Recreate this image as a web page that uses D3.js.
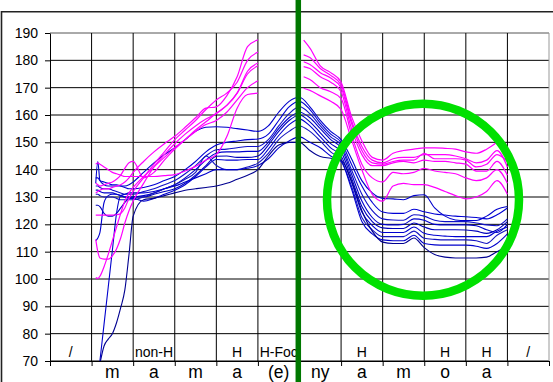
<!DOCTYPE html>
<html><head><meta charset="utf-8">
<script src="https://cdn.jsdelivr.net/npm/d3@7"></script>
<style>html,body{margin:0;padding:0;background:#fff;overflow:hidden}svg{display:block}</style>
</head><body><svg id="c" width="553" height="382"></svg>
<script>
// ---------- data ----------
const yTicks = [70,80,90,100,110,120,130,140,150,160,170,180,190];
const columns = [0,1,2,3,4,5,6,7,8,9,10,11];
const topLabels = ["/", "", "non-H", "", "H", "H-Foc", "", "H", "", "H", "H", "/"];
const bottomLabels = ["", "m", "a", "m", "a", "(e)", "ny", "a", "m", "o", "a", ""];

// x positions in column units (0..12)
const blueX = [1.1,1.15,1.2,1.3,1.4,1.5,1.6,1.7,1.8,1.9,2.0,2.25,2.5,2.75,3.0,3.25,3.5,3.75,4.0,4.25,4.5,4.75,5.0,5.25,5.5,5.75,6.0,
               6.25,6.5,6.75,7.0,7.25,7.5,7.75,8.0,8.25,8.5,8.75,9.0,9.25,9.5,9.75,10.0,10.25,10.5,10.75,11.0];
const blue1 = [135,143,136,134.5,134,134,134,134,134,134.5,135.5,139,142.5,145.5,148,151,154,155.5,155.7,155.5,155,154.5,154,156,161,165,166.5,
               163,158,154,151,144,136,131.5,129.5,129.3,129,130.5,130.8,126,123,121.6,121.4,121.4,123,125.5,126.5];
const blue2 = [137,137,136,135.5,135,134.5,134.5,134,133.5,133,133,133.5,134.5,136,137.5,140,143,146.5,149,150,150.5,151,151.2,153,158,163,165,
               162,157,153,150,142,134,128,124.5,124,124,125.5,124.6,123.8,123.4,123,122.8,122.5,122,123.5,126];
const blue3 = [134,134,133.5,133,133,132.5,132,131.5,131,131,131,132,133,134.5,136,138.5,141.5,145,147.3,147.5,148,148.5,148.5,151,156,160.5,163,
               160.5,156,152,149,140,131,125,122,121.6,121.5,123.5,123,121.5,121,121,121,120.5,119.8,119.5,122];
const blue4 = [132.5,132.5,132,131.5,131.5,131.5,131,130.5,130,130,130,130.5,131.5,133,134.5,137,140,143.5,146,146.5,146.5,146.7,146.7,150,155,159,161,
               159,155,151,148,138.5,128.5,122.5,120,119.8,120,122,121.5,120,119.8,119.8,119.8,119.5,118,117,120];
const blue5 = [127,127,126.5,124,123,123,124,126,128,129.5,130,130,131,132,133,135,138,141.5,144.9,145,144.5,144.5,145,149,154,158,160,
               157.5,153.5,149.5,146.5,137,126.5,121,118.7,118.5,118.5,120.5,119,118,118,118,117.9,117.5,116.7,118,121];
const blue6 = [114,115,117,128,130.5,131,131,130.5,130,129.5,129.5,128.5,129.5,131,132.5,134.5,137.5,141,143.7,143.5,143.5,143.7,143.7,147.5,152.5,156.5,158.5,
               156,152,148,145,135.5,124.5,119.5,117,117,117,119,116.7,116,115.7,115.5,115.5,115.5,115.5,117.5,119];
const blue7 = [131,131,130.5,130,130,130,129.5,129,129,129,129,130,131.5,133,134.5,136.5,139,145,141.5,140,140,141,142.4,146,151,154,156,
               154,150.5,146.5,143.5,134,122.5,118,115.5,115.5,115.5,117.5,114.9,114.5,114.3,114.3,114.3,114,113,116,118];
const blue8 = [null,null,70,83.5,97,110.5,124,130.5,131,131.5,131.5,131.5,132,133,134,135.5,137,138.5,140,140,140,140.5,141.5,144,148,150.5,152,
               150,148,145,143,133,121,116.5,114.3,114,114,116,113,112.5,112.4,112.4,112.4,112,111.2,113,116.5];
const blue9 = [null,null,69,75.5,78,80,84,89.5,96,109,123,129,129.5,130.5,131.5,132.5,133,133.5,134,135,136.5,138,140,145,149,150,150,
               147,144.8,144.2,143.5,136,125,117.5,113.5,113,113,115,111.5,109,108,107.7,107.7,107.7,108,110,112];

const pinkLeftX = [1.1,1.15,1.2,1.3,1.4,1.5,1.6,1.7,1.8,1.9,2.0,2.25,2.5,2.75,3.0,3.25,3.5,3.75,4.0,4.25,4.5,4.75,5.0];
const pinkL1 = [142,142.5,142,141,140,139,138.5,138,137.5,137.5,137.5,137.5,137.5,137.8,138.2,139.5,141.2,143.5,145.5,152,162.5,167.5,168];
const pinkL2 = [135,134.5,134,134.5,135,135.5,136.5,138,140.5,142.5,143,137,139,143.5,147.5,151,154.5,157.5,160.7,163.5,168,175,178];
const pinkL3 = [131.5,132,132.5,133,133,133.5,134,134.5,135.5,137,139,143,146.5,149.5,152.2,155.5,159,162.5,163,167,174,185,187.5];
const pinkL4 = [123.4,123.4,123.4,123.4,123.4,123.4,123.5,124,126,129.5,132,137,142,146.5,151,154.5,158,162,165.5,168,172,180,183];
const pinkL5 = [114.5,110,107.7,107.3,107.3,108.5,111,115,120.5,125,128.5,135,141,145.5,149.5,153,156,158.5,160.5,163.5,168,176,179];
const pinkL6 = [100.5,100.2,101,104.5,109,114,119,124,128.5,131.5,133.5,137.5,141,144.5,148,151,154,156.5,158,161,165.5,170,172.5];

const pinkRightX = [6.1,6.25,6.5,6.75,7.0,7.25,7.5,7.75,8.0,8.25,8.5,8.75,9.0,9.25,9.5,9.75,10.0,10.25,10.5,10.75,11.0];
const pinkR1 = [187.4,184.5,178,175.5,172,159.5,150.5,144.5,143.5,146,147,147.5,148,148,147.8,147.5,146.5,146,147.5,150,null];
const pinkR2 = [182,181,177,174.5,171,158,148.5,143.5,142.5,144,144.5,144.5,145.5,145.5,145.5,145,144,142.5,143.5,147,141];
const pinkR3 = [179.5,178.5,175.5,173.5,170,157,147,142.5,142,143,143.5,143.5,146,144,144,144,143.5,141,142,145.5,143];
const pinkR4 = [177.7,177,174,172,168.5,155,145.5,141.5,141.5,142.5,143,142.5,143.5,143,143,142.5,142,139.5,139.5,143,138];
const pinkR5 = [174,173,170,168.5,166,153,142,137,135.5,139,138.5,139,140.5,139.5,139,138.5,137,136,137,140,135];
const pinkR6 = [169.8,169,167,165,162,151,140,131,128.5,134,135,134.5,134.5,133.5,132,130.5,129.3,130,132,136,131];

const blueSeries = [blue1,blue2,blue3,blue4,blue5,blue6,blue7,blue8,blue9];
const pinkLeftSeries = [pinkL1,pinkL2,pinkL3,pinkL4,pinkL5,pinkL6];
const pinkRightSeries = [pinkR1,pinkR2,pinkR3,pinkR4,pinkR5,pinkR6];

// ---------- drawing ----------
const W = 553, H = 382;
const FONT = '"Liberation Sans", Arial, sans-serif';
const svg = d3.select('#c');
const x = d3.scaleLinear().domain([0,12]).range([50,549]);
const y = d3.scaleLinear().domain([70,190]).range([361,33]);
const band = d3.scaleBand().domain(columns).range([50,549]);

svg.append('rect').attr('width',W).attr('height',H).attr('fill','#fff');
// outer chart frame (cropped)
svg.append('path').attr('d',`M1.5,${H} V11.75 H${W}`).attr('fill','none').attr('stroke','#222').attr('stroke-width',1.6);

// gridlines
const grid = svg.append('g');
grid.selectAll('line.h').data(yTicks).join('line').attr('class','h')
  .attr('x1',x(0)).attr('x2',x(12)).attr('y1',d=>y(d)).attr('y2',d=>y(d))
  .attr('stroke', d => d===190 ? '#555' : '#000').attr('stroke-width',1);
grid.selectAll('line.v').data(d3.range(1,13)).join('line').attr('class','v')
  .attr('x1',d=>x(d)).attr('x2',d=>x(d)).attr('y1',y(190)).attr('y2',y(70))
  .attr('stroke', d => d===12 ? '#999' : '#000').attr('stroke-width',1);

// axes
const yAxis = svg.append('g').attr('transform',`translate(${x(0)},0)`)
  .call(d3.axisLeft(y).tickValues(yTicks).tickSize(5).tickPadding(7).tickSizeOuter(0));
yAxis.attr('font-family',FONT).attr('font-size',14);
yAxis.selectAll('text').attr('fill','#000');
yAxis.selectAll('line,path').attr('stroke','#000');

const xAxis = svg.append('g').attr('transform',`translate(0,${y(70)})`)
  .call(d3.axisBottom(x).tickValues(d3.range(0,13)).tickSize(5).tickFormat('').tickSizeOuter(0));
xAxis.selectAll('line,path').attr('stroke','#000');

// clip for lines
svg.append('clipPath').attr('id','plot').append('rect')
  .attr('x',x(0)).attr('y',y(190)-6).attr('width',x(12)-x(0)).attr('height',y(70)-y(190)+6);

const line = () => d3.line()
  .defined(d => d[1] != null)
  .x(d => x(d[0])).y(d => y(d[1]))
  .curve(d3.curveMonotoneX);

const lines = svg.append('g').attr('clip-path','url(#plot)');
const blueColors = ['#0000cc','#0000d4','#1010c8','#0000cc','#0000bb','#0000d0','#1515c0','#0000cc','#000090'];
blueSeries.forEach((s,i) => {
  lines.append('path').datum(blueX.map((u,j)=>[u,s[j]]))
    .attr('d', line()).attr('fill','none').attr('stroke',blueColors[i]).attr('stroke-width',1.1);
});
pinkLeftSeries.forEach(s => {
  lines.append('path').datum(pinkLeftX.map((u,j)=>[u,s[j]]))
    .attr('d', line()).attr('fill','none').attr('stroke','#ff00ff').attr('stroke-width',1.2);
});
pinkRightSeries.forEach(s => {
  lines.append('path').datum(pinkRightX.map((u,j)=>[u,s[j]]))
    .attr('d', line()).attr('fill','none').attr('stroke','#ff00ff').attr('stroke-width',1.2);
});

// category labels inside plot
svg.append('g').selectAll('text').data(columns).join('text')
  .attr('x', d => band(d) + band.bandwidth()/2).attr('y', y(70) - 4.5)
  .attr('text-anchor','middle').attr('font-family',FONT).attr('font-size',14).attr('fill','#000')
  .text(d => topLabels[d]);

// second-level labels below axis
svg.append('g').selectAll('text').data(columns).join('text')
  .attr('x', d => band(d) + band.bandwidth()/2).attr('y', 377.8)
  .attr('text-anchor','middle').attr('font-family',FONT).attr('font-size',17.5).attr('fill','#000')
  .text(d => bottomLabels[d]);

// annotations: green circle and dark green divider
svg.append('circle').attr('cx', x(8.97)).attr('cy', y(129)).attr('r', 96)
  .attr('fill','none').attr('stroke','#00e000').attr('stroke-width',8.5);
svg.append('line').attr('x1', x(6)-1.2).attr('x2', x(6)-1.2).attr('y1',0).attr('y2',H)
  .attr('stroke','#007800').attr('stroke-width',5.5);
</script>
</body></html>
